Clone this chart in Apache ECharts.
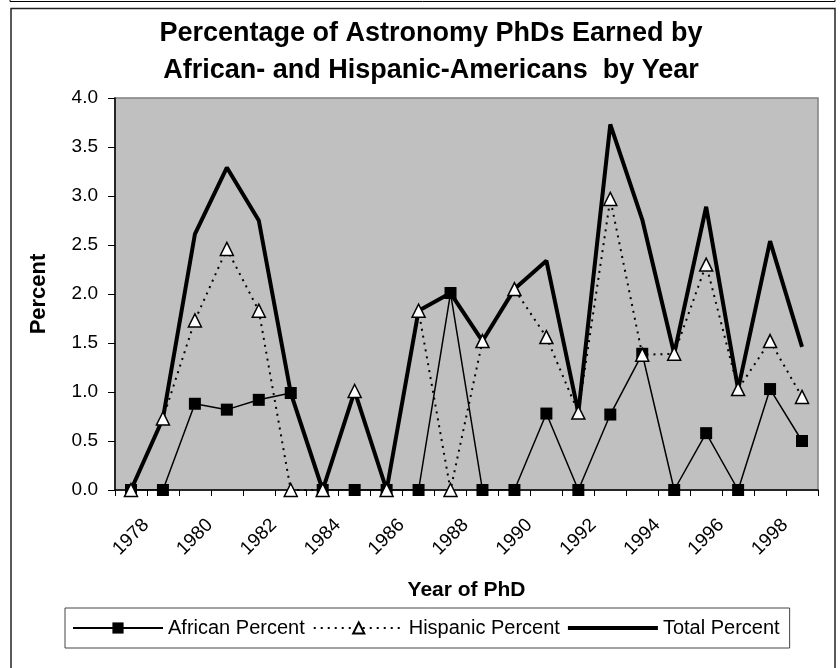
<!DOCTYPE html>
<html>
<head>
<meta charset="utf-8">
<style>
  html, body { margin: 0; padding: 0; background: #fff; }
  #chart { width: 840px; height: 668px; }
</style>
<script src="https://cdn.jsdelivr.net/npm/echarts@6/dist/echarts.min.js"></script>
</head>
<body>
<div id="chart"></div>
<script>
  // 数据：1978-1999 年
  var years = ['1978', '1979', '1980', '1981', '1982', '1983', '1984', '1985', '1986', '1987', '1988',
               '1989', '1990', '1991', '1992', '1993', '1994', '1995', '1996', '1997', '1998', '1999']
  var african = [0, 0, 0.88, 0.82, 0.92, 0.99, 0, 0, 0, 0, 2.01,
                 0, 0, 0.78, 0, 0.77, 1.39, 0, 0.58, 0, 1.03, 0.50]
  var hispanic = [0, 0.73, 1.73, 2.46, 1.83, 0, 0, 1.01, 0, 1.83, 0,
                  1.52, 2.05, 1.56, 0.79, 2.97, 1.38, 1.39, 2.30, 1.03, 1.52, 0.95]
  var total = [0, 0.73, 2.61, 3.29, 2.75, 0.99, 0, 1.01, 0, 1.83, 2.01,
               1.52, 2.05, 2.34, 0.79, 3.73, 2.76, 1.39, 2.89, 1.03, 2.54, 1.46]
  var seriesNames = ['African Percent', 'Hispanic Percent', 'Total Percent']

  var font = "'Liberation Sans', Arial, sans-serif"
  var myChart = echarts.init(document.getElementById('chart'), null, {renderer: 'canvas'})

  var option = {
    animation: false,
    backgroundColor: '#fff',
    textStyle: { fontFamily: font, color: '#000' },
    title: {
      text: 'Percentage of Astronomy PhDs Earned by\nAfrican- and Hispanic-Americans  by Year',
      left: 431,
      textAlign: 'center',
      top: 15,
      padding: 0,
      textStyle: {
        fontFamily: font,
        fontSize: 27,
        fontWeight: 'bold',
        lineHeight: 37,
        color: '#000'
      }
    },
    graphic: [
      // 外框
      { type: 'rect', shape: { x: 10, y: -20, width: 825, height: 21.5 },
        style: { fill: 'none', stroke: '#000', lineWidth: 1 } },
      { type: 'rect', shape: { x: 11, y: 8.5, width: 824, height: 700 },
        style: { fill: 'none', stroke: '#222', lineWidth: 1.5 } }
    ],
    legend: {
      data: [
        seriesNames[0],
        seriesNames[1],
        {name: seriesNames[2], icon: 'path://M0,0H90V4H0Z'}
      ],
      left: 65,
      top: 608,
      orient: 'horizontal',
      itemWidth: 90,
      itemHeight: 14,
      itemGap: 8,
      padding: [10, 10, 10, 7],
      borderColor: '#444',
      borderWidth: 1,
      backgroundColor: '#fff',
      textStyle: { fontFamily: font, fontSize: 20, color: '#000' }
    },
    grid: {
      left: 115,
      right: 22,
      top: 98,
      bottom: 178,
      show: true,
      backgroundColor: '#c0c0c0',
      borderColor: '#808080',
      borderWidth: 1.5
    },
    xAxis: {
      type: 'category',
      data: years,
      boundaryGap: true,
      name: 'Year of PhD',
      nameLocation: 'middle',
      nameGap: 90,
      nameTextStyle: { fontFamily: font, fontSize: 21, fontWeight: 'bold', color: '#000' },
      axisLine: { lineStyle: { color: '#000', width: 1.5 } },
      axisTick: { show: true, interval: 0, length: 6, lineStyle: { color: '#000' } },
      axisLabel: {
        interval: 1,
        rotate: 45,
        align: 'center',
        verticalAlign: 'middle',
        margin: 47,
        fontFamily: font,
        fontSize: 19,
        color: '#000'
      },
      splitLine: { show: false }
    },
    yAxis: {
      type: 'value',
      min: 0,
      max: 4,
      interval: 0.5,
      name: 'Percent',
      nameLocation: 'middle',
      nameGap: 65,
      nameRotate: 90,
      nameTextStyle: { fontFamily: font, fontSize: 22, fontWeight: 'bold', color: '#000' },
      axisLine: { show: true, lineStyle: { color: '#000', width: 1.5 } },
      axisTick: { show: true, length: 7, lineStyle: { color: '#000' } },
      axisLabel: {
        margin: 17,
        fontFamily: font,
        fontSize: 19,
        color: '#000',
        formatter: function (v) { return v.toFixed(1) }
      },
      splitLine: { show: false }
    },
    series: [
      {
        name: seriesNames[0],
        type: 'line',
        data: african,
        z: 3,
        symbol: 'rect',
        symbolSize: 12,
        showAllSymbol: true,
        itemStyle: { color: '#000', borderColor: '#000', borderWidth: 0 },
        lineStyle: { color: '#000', width: 1.5, type: 'solid' }
      },
      {
        name: seriesNames[1],
        type: 'line',
        data: hispanic,
        z: 4,
        symbol: 'triangle',
        symbolSize: 13,
        showAllSymbol: true,
        itemStyle: { color: '#fff', borderColor: '#000', borderWidth: 1.5 },
        lineStyle: { color: '#000', width: 2, type: [2, 5] }
      },
      {
        name: seriesNames[2],
        type: 'line',
        data: total,
        z: 2,
        symbol: 'none',
        itemStyle: { color: '#000' },
        lineStyle: { color: '#000', width: 4, type: 'solid' }
      }
    ]
  }

  myChart.setOption(option)
</script>
</body>
</html>
